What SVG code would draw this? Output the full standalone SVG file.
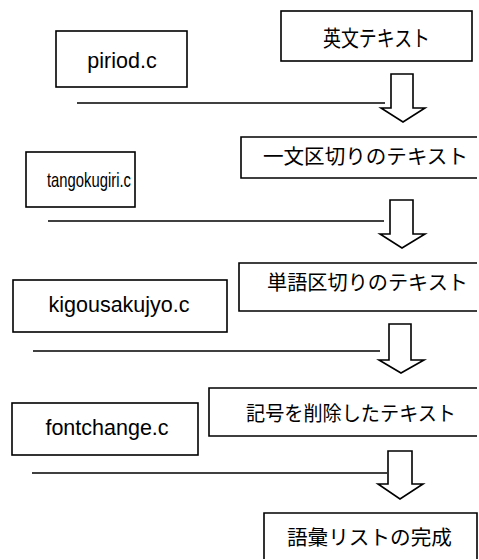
<svg xmlns="http://www.w3.org/2000/svg" width="479" height="560" viewBox="0 0 479 560">
<style>
.box{fill:#fff;stroke:#000;stroke-width:1.6}
.lbl{font-family:"Liberation Sans",Arial,sans-serif;font-size:21.5px;fill:#000;text-anchor:middle}
.jp{font-family:"Noto Sans CJK JP","Noto Sans CJK SC",sans-serif;font-size:20.5px;fill:#000}
.ln{stroke:#000;stroke-width:1.6;fill:none}
.arr{fill:#fff;stroke:#000;stroke-width:1.6;stroke-linejoin:miter}
</style>
<rect width="479" height="560" fill="#fff"/>
<g id="connectors">
<line class="ln" x1="77" y1="103" x2="385" y2="103"/>
<path class="arr" d="M391,74 H413 V108 H425 L403,122 L381,108 H391 Z"/>
<line class="ln" x1="48" y1="221" x2="384" y2="221"/>
<path class="arr" d="M390,200 H413 V234 H425 L402,248 L380,234 H390 Z"/>
<line class="ln" x1="33" y1="351" x2="380" y2="351"/>
<path class="arr" d="M389,324 H411 V360 H424 L401,373 L379,360 H389 Z"/>
<line class="ln" x1="32" y1="473" x2="387" y2="473"/>
<path class="arr" d="M388,451 H412 V484 H423 L400,499 L378,484 H388 Z"/>
</g>
<g id="eibun">
<rect class="box" x="281" y="11" width="191" height="50"/>
<text class="jp" x="323" y="46" style="font-size:22px" textLength="107" lengthAdjust="spacingAndGlyphs">英文テキスト</text>
</g>
<g id="piriod">
<rect class="box" x="56" y="31" width="131" height="56"/>
<text class="lbl" x="122" y="68">piriod.c</text>
</g>
<g id="ichibun">
<path class="box" d="M477,137 H241 V178 H477"/>
<text class="jp" x="263" y="164" textLength="205" lengthAdjust="spacingAndGlyphs">一文区切りのテキスト</text>
</g>
<g id="tangokugiri">
<rect class="box" x="26" y="152" width="109" height="55"/>
<text class="lbl" x="47" y="187" style="text-anchor:start;font-size:21px" textLength="84" lengthAdjust="spacingAndGlyphs">tangokugiri.c</text>
</g>
<g id="tango">
<path class="box" d="M477,263 H239 V311 H477"/>
<text class="jp" x="267" y="290" textLength="201" lengthAdjust="spacingAndGlyphs">単語区切りのテキスト</text>
</g>
<g id="kigousakujyo">
<rect class="box" x="13" y="280" width="214" height="52"/>
<text class="lbl" x="119" y="312">kigousakujyo.c</text>
</g>
<g id="kigou">
<path class="box" d="M477,388 H209 V436 H477"/>
<text class="jp" x="246" y="421" textLength="210" lengthAdjust="spacingAndGlyphs">記号を削除したテキスト</text>
</g>
<g id="fontchange">
<rect class="box" x="12" y="403" width="186" height="52"/>
<text class="lbl" x="107" y="435">fontchange.c</text>
</g>
<g id="goi">
<path class="box" d="M264,559 V513 H477 V559"/>
<text class="jp" x="287" y="545" textLength="165" lengthAdjust="spacingAndGlyphs">語彙リストの完成</text>
</g>
</svg>
